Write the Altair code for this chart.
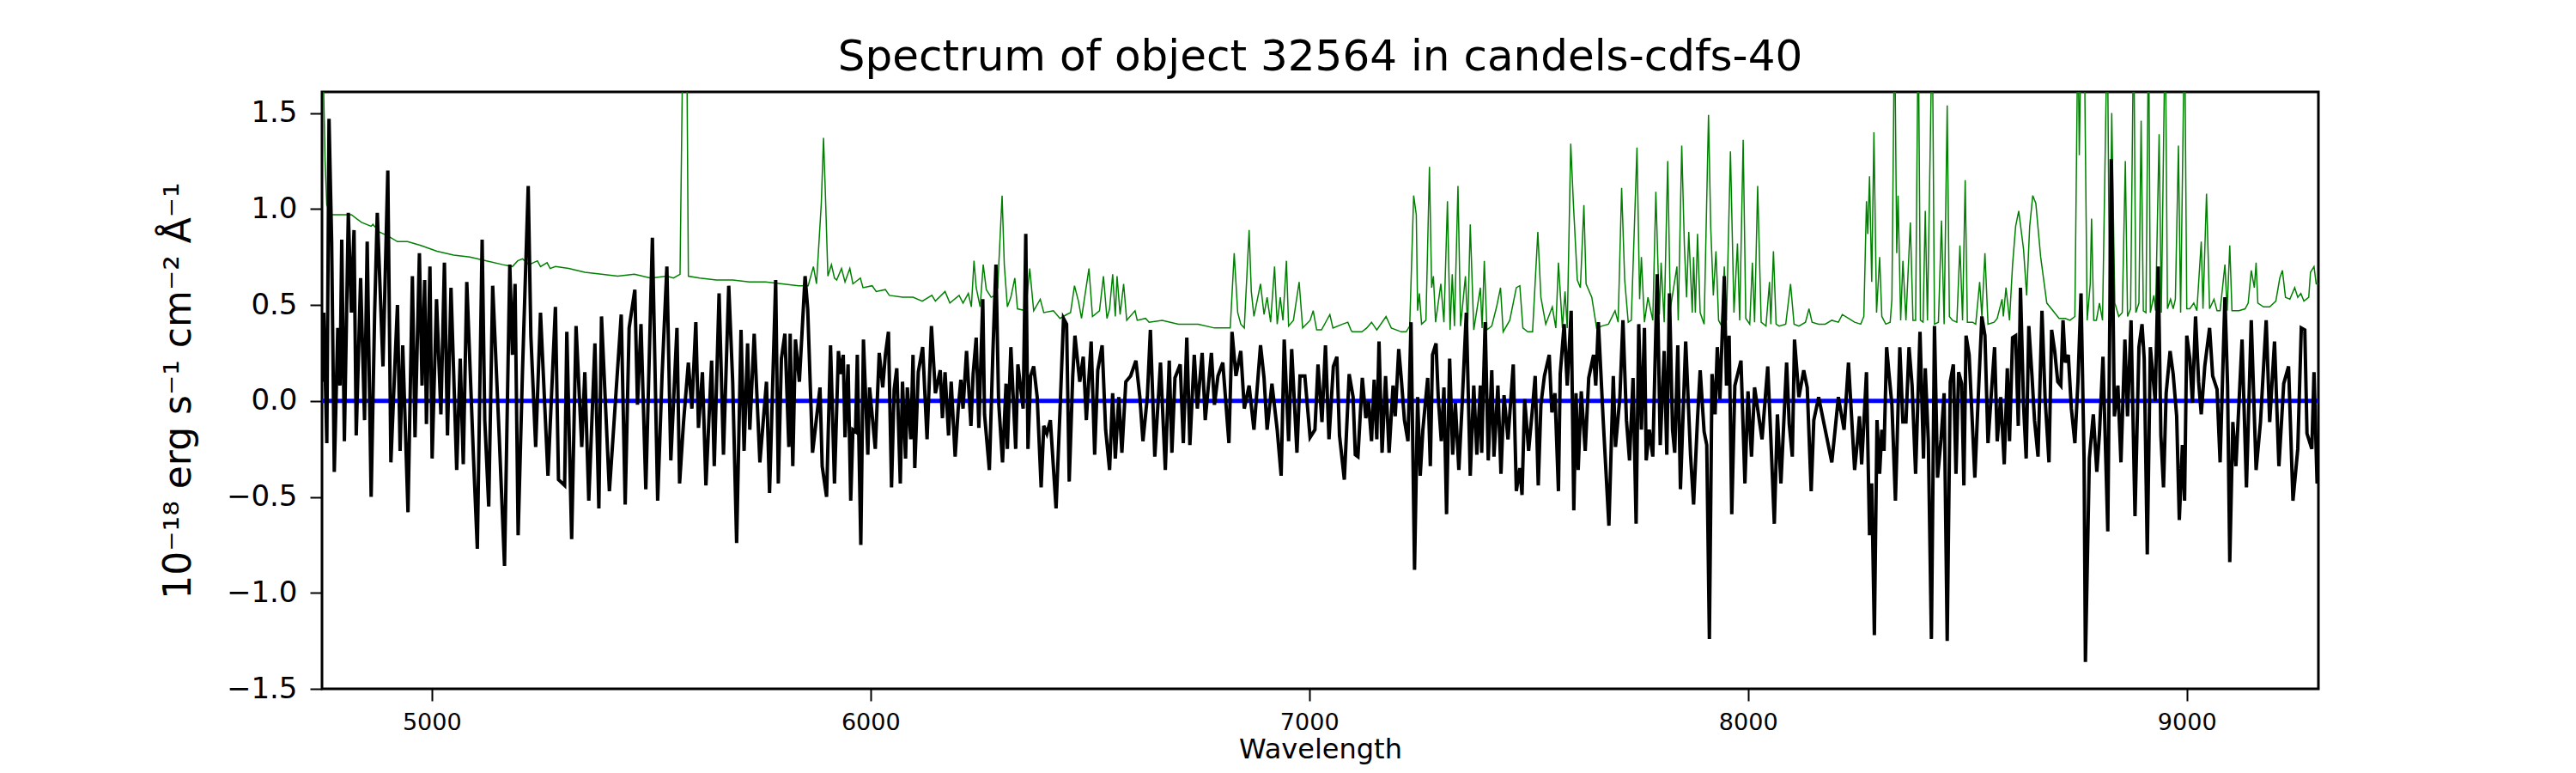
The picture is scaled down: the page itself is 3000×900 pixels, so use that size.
import altair as alt
import pandas as pd

# Observed flux (black)
wave = [4750, 4754, 4761, 4766, 4772, 4778, 4786, 4791, 4795, 4801, 4810, 4817, 4823, 4828, 4838, 4847, 4853, 4862, 4870, 4876,
        4889, 4900, 4907, 4916, 4922, 4928, 4934, 4946, 4956, 4962, 4972, 4978, 4984, 4988, 4996, 5001, 5011, 5021, 5029, 5036,
        5044, 5057, 5065, 5072, 5080, 5095, 5104, 5115, 5121, 5130, 5139, 5154, 5166, 5178, 5184, 5190, 5197, 5207, 5220, 5226,
        5237, 5248, 5265, 5282, 5289, 5303, 5308, 5319, 5329, 5342, 5349, 5358, 5372, 5381, 5387, 5405, 5413, 5432, 5441, 5450,
        5463, 5469, 5477, 5488, 5503, 5515, 5525, 5536, 5545, 5559, 5565, 5574, 5585, 5593, 5602, 5608, 5617, 5625, 5638, 5644,
        5655, 5665, 5677, 5686, 5695, 5705, 5712, 5720, 5725, 5735, 5748, 5763, 5770, 5784, 5790, 5797, 5805, 5814, 5817, 5823,
        5829, 5838, 5851, 5857, 5868, 5885, 5890, 5900, 5909, 5918,
        5927, 5932, 5938, 5942, 5949, 5955, 5960, 5966, 5970, 5978, 5984, 5994, 5998, 6011, 6020, 6028, 6034, 6041, 6048, 6054,
        6060, 6068, 6073, 6080, 6084, 6092, 6097, 6101, 6109, 6119, 6129, 6139, 6148, 6159, 6164, 6170, 6178, 6184, 6193, 6200,
        6206, 6211, 6219, 6229, 6234, 6241, 6247, 6256, 6260, 6271, 6279, 6286, 6292, 6301, 6309, 6312, 6320, 6331, 6336, 6348,
        6354, 6359, 6365, 6372, 6380, 6389, 6395, 6402, 6410, 6423, 6432, 6440, 6447, 6453, 6461, 6466, 6477, 6485, 6492, 6503,
        6511, 6518, 6528, 6536, 6545, 6552, 6558, 6566, 6573, 6582, 6593, 6605, 6614, 6621, 6631, 6638, 6648, 6661, 6672, 6681,
        6687, 6694, 6706, 6713, 6721, 6728, 6738, 6745, 6756, 6763, 6777, 6784, 6792, 6803, 6817, 6824, 6833, 6844, 6852, 6863,
        6874, 6889, 6897, 6904, 6915, 6927, 6936, 6943, 6953, 6960, 6972, 6979, 6990, 7002, 7013, 7020, 7029, 7037, 7045, 7055,
        7063, 7069, 7080, 7091,
        7100, 7105, 7111, 7121, 7129, 7135, 7142, 7148, 7154, 7159, 7166, 7174, 7182, 7191, 7196, 7204, 7210, 7217, 7225, 7232,
        7240, 7247, 7253, 7259, 7270, 7276, 7281, 7289, 7294, 7301, 7307, 7313, 7320, 7327, 7333, 7341, 7348, 7358, 7367, 7375,
        7382, 7390, 7393, 7401, 7408, 7416, 7421, 7430, 7437, 7444, 7453, 7465, 7472, 7480, 7485, 7491, 7500, 7508, 7515, 7522,
        7528, 7536, 7547, 7553, 7560, 7568, 7572, 7581, 7588, 7597, 7603, 7608, 7613, 7620, 7629, 7637, 7648, 7653, 7659, 7670,
        7674, 7683, 7693, 7698, 7708, 7715, 7723, 7730, 7738, 7745, 7751, 7757, 7764, 7768, 7775, 7783, 7793, 7800, 7809, 7815,
        7821, 7828, 7833, 7840, 7846, 7858, 7869, 7876, 7885, 7891, 7900, 7906, 7912, 7918, 7925, 7930, 7936, 7946, 7951, 7957,
        7963, 7970, 7984, 7993, 8000, 8008, 8015, 8022, 8032, 8045, 8052, 8060, 8067, 8075, 8088, 8094, 8101, 8106, 8116, 8127,
        8135, 8144, 8150, 8161, 8176, 8191, 8199, 8206,
        8219, 8229, 8236, 8243, 8249, 8254, 8259, 8264, 8270, 8277, 8282, 8288, 8294, 8300, 8305, 8310, 8316, 8321, 8328, 8336,
        8346, 8353, 8360, 8367, 8374, 8382, 8392, 8400, 8404, 8411, 8418, 8425, 8432, 8440, 8447, 8454, 8461, 8468, 8474, 8480,
        8487, 8492, 8497, 8504, 8512, 8517, 8524, 8533, 8540, 8547, 8554, 8562, 8568, 8576, 8584, 8591, 8596, 8603, 8610, 8616,
        8621, 8628, 8634, 8640, 8647, 8653, 8661, 8670, 8677, 8686, 8692, 8699, 8706, 8713, 8718, 8723, 8730, 8737, 8745, 8752,
        8759, 8766, 8769, 8778, 8787, 8795, 8801, 8809, 8820, 8828, 8835, 8843, 8850, 8859, 8865, 8873, 8882, 8891, 8898, 8903,
        8910, 8917, 8928, 8935, 8941, 8947, 8953, 8962, 8969, 8977, 8983, 8990, 8995, 9000, 9007, 9013, 9020, 9027, 9033, 9041,
        9052, 9059, 9069, 9076, 9087, 9093, 9098, 9105, 9112, 9126, 9136, 9147, 9158, 9168, 9181, 9189, 9200, 9210, 9221, 9232,
        9242, 9253, 9261, 9269, 9274, 9285, 9290, 9297, 9300]
flux = [0.10, 0.46, -0.22, 1.47, 0.83, -0.37, 0.38, 0.08, 0.84, -0.21, 0.98, 0.46, 0.89, -0.18, 0.64, -0.10, 0.83, -0.50, 0.46, 0.98,
        0.18, 1.20, -0.32, 0.18, 0.50, -0.26, 0.29, -0.58, 0.65, -0.19, 0.77, 0.08, 0.63, -0.12, 0.70, -0.30, 0.53, -0.07, 0.72, -0.18,
        0.59, -0.36, 0.22, -0.33, 0.62, -0.28, -0.77, 0.84, -0.10, -0.55, 0.60, -0.19, -0.86, 0.71, 0.24, 0.61, -0.70, 0.16, 1.12, 0.34,
        -0.24, 0.46, -0.39, 0.49, -0.41, -0.44, 0.36, -0.72, 0.39, -0.24, 0.15, -0.52, 0.30, -0.56, 0.44, -0.47, -0.20, 0.45, -0.54, 0.38,
        0.58, -0.02, 0.40, -0.46, 0.85, -0.52, 0.13, 0.70, -0.31, 0.38, -0.43, -0.11, 0.20, -0.04, 0.41, -0.14, 0.15, -0.44, 0.21, -0.34,
        0.56, -0.28, 0.60, 0.10, -0.74, 0.37, -0.26, 0.30, -0.15, 0.35, -0.32, 0.10, -0.48, 0.63, -0.43, 0.22, 0.35, -0.24, 0.35, -0.34,
        0.32, 0.10, 0.65, 0.48, -0.27, 0.07, -0.34, -0.50, 0.29, -0.43,
        0.26, 0.14, 0.24, -0.19, 0.19, -0.52, -0.15, -0.16, 0.24, -0.75, 0.32, -0.28, 0.07, -0.25, 0.25, 0.07, 0.24, 0.36, -0.45, 0.06,
        0.17, -0.43, 0.10, -0.30, 0.07, -0.20, 0.24, -0.35, 0.15, 0.28, -0.20, 0.39, 0.04, 0.16, -0.09, 0.15, -0.18, 0.10, -0.29, -0.04,
        0.11, -0.04, 0.26, -0.13, 0.14, 0.33, -0.14, 0.53, -0.07, -0.36, 0.25, 0.71, 0.00, -0.32, 0.09, -0.25, 0.28, -0.25, 0.19, -0.04,
        0.87, -0.25, 0.13, 0.18, 0.02, -0.45, -0.13, -0.17, -0.10, -0.56, -0.05, 0.43, 0.40, -0.42, 0.13, 0.34, 0.10, 0.23, -0.10, 0.31,
        -0.28, 0.16, 0.29, -0.15, -0.36, 0.04, -0.30, 0.02, -0.27, 0.10, 0.13, 0.21, 0.02, -0.21, 0.02, 0.37, -0.29, 0.20, -0.36, 0.21,
        -0.27, 0.12, 0.19, -0.22, 0.33, -0.23, 0.24, -0.04, 0.25, -0.10, 0.25, -0.02, 0.13, 0.20, -0.22, 0.36, 0.13, 0.26, -0.04, 0.08,
        -0.15, 0.29, 0.12, -0.15, 0.09, -0.15, -0.39, 0.32, -0.21, 0.27, -0.27, 0.13, 0.13, -0.19, -0.15, 0.19, -0.11, 0.29, -0.20, 0.18,
        0.23, -0.18, -0.41, 0.14,
        0.02, -0.28, -0.29, 0.12, -0.09, 0.00, -0.21, 0.11, -0.20, 0.31, -0.27, 0.13, -0.27, 0.08, -0.08, 0.27, 0.11, -0.10, -0.21, 0.41,
        -0.88, 0.02, -0.39, -0.15, 0.12, -0.34, 0.24, 0.30, 0.02, -0.21, 0.07, -0.59, 0.22, -0.28, -0.01, -0.36, -0.04, 0.46, -0.39, 0.08,
        -0.28, 0.08, -0.27, 0.41, -0.31, 0.16, -0.29, 0.08, -0.38, 0.03, -0.20, 0.19, -0.47, -0.35, -0.49, 0.01, -0.26, -0.06, 0.13, -0.44,
        -0.02, 0.13, 0.24, -0.06, 0.04, -0.47, 0.14, 0.40, 0.08, 0.47, -0.57, 0.04, -0.36, 0.05, -0.26, 0.12, 0.24, 0.08, 0.41, -0.10,
        -0.27, -0.65, 0.13, -0.24, 0.02, 0.42, -0.10, -0.31, 0.12, -0.64, 0.40, -0.15, 0.38, -0.31, -0.15, -0.29, 0.66, -0.23, 0.26, -0.28,
        0.56, -0.15, -0.27, 0.29, -0.46, 0.31, -0.28, -0.54, -0.09, 0.16, -0.16, -0.23, -1.24, 0.14, -0.07, 0.28, 0.01, 0.65, 0.08, 0.34,
        -0.59, 0.08, 0.21, -0.43, 0.05, -0.29, 0.07, -0.04, -0.20, 0.18, -0.19, -0.64, -0.07, -0.43, 0.20, -0.12, -0.29, 0.32, 0.02, 0.16,
        0.07, -0.47, -0.10, 0.02, -0.15, -0.32, -0.14, 0.02,
        -0.15, 0.20, -0.08, -0.36, -0.22, -0.08, -0.33, -0.12, 0.15, -0.70, -0.43, -1.22, -0.10, -0.38, -0.15, -0.26, 0.28, 0.15, -0.02, -0.52,
        0.28, -0.11, -0.11, 0.28, 0.08, -0.38, 0.36, -0.30, 0.17, -0.21, -1.24, 0.39, -0.40, -0.20, 0.04, -1.25, 0.10, 0.19, -0.38, 0.15,
        0.09, -0.44, 0.34, 0.24, -0.15, -0.40, -0.02, 0.44, 0.34, -0.22, 0.02, 0.28, -0.21, 0.02, -0.33, 0.17, -0.21, 0.33, 0.34, -0.13,
        0.59, -0.02, -0.30, 0.39, 0.14, -0.10, -0.29, 0.47, 0.02, -0.32, 0.37, 0.26, 0.10, 0.08, 0.42, 0.20, 0.24, -0.04, -0.22, 0.10,
        0.56, -0.31, -1.36, -0.30, -0.07, -0.37, -0.17, 0.23, -0.68, 1.26, -0.08, 0.08, -0.32, 0.32, -0.08, 0.42, -0.60, 0.28, 0.40, 0.22,
        -0.80, 0.28, 0.00, 0.70, -0.18, -0.45, 0.04, 0.26, 0.14, -0.08, -0.62, -0.23, -0.52, 0.34, 0.22, -0.01, 0.44, 0.10, -0.07, 0.18,
        0.38, 0.13, 0.06, -0.32, 0.54, 0.08, -0.84, -0.11, -0.34, 0.32, -0.45, 0.42, -0.36, -0.11, 0.42, -0.11, 0.31, -0.34, 0.09, 0.18,
        -0.52, -0.25, 0.38, 0.37, -0.17, -0.25, 0.15, -0.43, -0.40]

# Noise / error spectrum (green)
err_wave = [4750, 4753, 4757, 4761, 4772, 4795, 4817, 4840, 4862, 4866, 4881, 4900, 4922, 4945, 4975, 5012, 5050, 5087, 5125, 5162,
            5184, 5196, 5207, 5222, 5241, 5248, 5263, 5270, 5282, 5312, 5349, 5387, 5424, 5462, 5499, 5536, 5551, 5566, 5573, 5581,
            5585, 5611, 5649, 5686, 5724, 5761, 5799, 5836, 5858, 5870, 5877, 5888, 5893, 5897, 5903, 5911, 5918,
            5923, 5934, 5942, 5953, 5960, 5977, 5983, 6004, 6013, 6034, 6043, 6073, 6097, 6118, 6140, 6148, 6170, 6181, 6202, 6211,
            6223, 6230, 6236, 6241, 6250, 6257, 6264, 6275, 6284, 6290, 6300, 6305, 6312, 6320, 6329, 6335, 6354, 6363, 6372, 6387,
            6395, 6417, 6432, 6447, 6456, 6465, 6474, 6481, 6498, 6506, 6522, 6531, 6539, 6545, 6552, 6558, 6562, 6569, 6577, 6584,
            6603, 6608, 6627, 6635, 6665, 6702, 6747, 6784, 6820, 6829, 6837, 6844, 6852, 6863, 6868, 6874, 6889, 6897, 6904, 6912,
            6921, 6927, 6934, 6940, 6948, 6953, 6964, 6977, 6985, 7002, 7009, 7017, 7028, 7047, 7054, 7076, 7088, 7095,
            7098, 7120, 7131, 7142, 7154, 7175, 7187, 7210, 7221, 7229, 7238, 7244, 7247, 7251, 7256, 7266, 7274, 7279, 7283, 7288,
            7300, 7307, 7315, 7321, 7326, 7331, 7339, 7345, 7356, 7361, 7367, 7375, 7390, 7394, 7399, 7405, 7416, 7427, 7436, 7442,
            7457, 7472, 7480, 7487, 7498, 7509, 7521, 7528, 7539, 7554, 7562, 7568, 7577, 7583, 7588, 7596, 7602, 7611, 7618, 7626,
            7631, 7644, 7655, 7667, 7682, 7697, 7704, 7712, 7719, 7727, 7734, 7747, 7753, 7757, 7764, 7772, 7783, 7790, 7798, 7802,
            7809, 7817, 7823, 7838, 7841, 7849, 7855, 7860, 7865, 7873, 7876, 7880, 7885, 7891, 7900, 7910, 7915, 7921, 7927, 7933,
            7940, 7946, 7951, 7960, 7968, 7976, 7981, 7989, 7995, 8004, 8010, 8015, 8022, 8030, 8041, 8049, 8052, 8058, 8064, 8071,
            8086, 8097, 8105, 8116, 8131, 8139, 8146, 8161, 8176, 8191, 8206,
            8215, 8229, 8243, 8257, 8264, 8270, 8273, 8277, 8282, 8287, 8293, 8300, 8305, 8314, 8324, 8328, 8334, 8339, 8342, 8348,
            8353, 8360, 8370, 8376, 8382, 8388, 8393, 8399, 8404, 8409, 8420, 8425, 8434, 8441, 8447, 8454, 8459, 8466, 8476, 8483,
            8489, 8495, 8500, 8512, 8519, 8528, 8533, 8540, 8547, 8561, 8568, 8579, 8582, 8588, 8596, 8603, 8610, 8617, 8628, 8635,
            8642, 8649, 8656, 8667, 8681, 8695, 8709, 8723, 8734, 8745, 8752, 8755, 8760, 8766, 8773, 8780, 8783, 8788, 8794, 8801,
            8808, 8819, 8824, 8829, 8836, 8845, 8853, 8860, 8865, 8872, 8879, 8884, 8891, 8896, 8901, 8907, 8913, 8917, 8925, 8929,
            8937, 8942, 8951, 8956, 8963, 8969, 8974, 8981, 8986, 8995, 9000, 9007, 9016, 9023, 9033, 9037, 9045, 9052, 9062, 9069,
            9076, 9087, 9092, 9098, 9103, 9119, 9133, 9140, 9147, 9154, 9158, 9162, 9175, 9189, 9203, 9212, 9218, 9225, 9235, 9246,
            9253, 9260, 9267, 9278, 9282, 9290, 9295, 9300]
err = [2.00, 1.70, 1.25, 1.02, 0.97, 0.97, 0.97, 0.93, 0.91, 0.92, 0.88, 0.86, 0.83, 0.83, 0.81, 0.78, 0.76, 0.75, 0.73, 0.71,
       0.70, 0.73, 0.74, 0.71, 0.73, 0.70, 0.72, 0.69, 0.70, 0.69, 0.67, 0.66, 0.65, 0.66, 0.64, 0.65, 0.64, 0.66, 2.00, 2.00,
       0.65, 0.64, 0.63, 0.63, 0.62, 0.62, 0.61, 0.60, 0.60, 0.70, 0.61, 1.03, 1.37, 1.10, 0.65, 0.71, 0.64,
       0.63, 0.69, 0.62, 0.69, 0.61, 0.64, 0.59, 0.60, 0.57, 0.58, 0.55, 0.54, 0.54, 0.52, 0.55, 0.52, 0.57, 0.51, 0.55, 0.51,
       0.56, 0.49, 0.73, 0.59, 0.49, 0.71, 0.58, 0.54, 0.55, 0.59, 1.07, 0.71, 0.49, 0.54, 0.64, 0.48, 0.47, 0.69, 0.47, 0.53,
       0.46, 0.47, 0.43, 0.45, 0.46, 0.60, 0.52, 0.43, 0.69, 0.44, 0.47, 0.65, 0.43, 0.48, 0.66, 0.44, 0.65, 0.45, 0.61, 0.42,
       0.47, 0.42, 0.43, 0.41, 0.42, 0.40, 0.40, 0.38, 0.38, 0.77, 0.46, 0.40, 0.38, 0.89, 0.57, 0.44, 0.61, 0.45, 0.54, 0.41,
       0.70, 0.40, 0.54, 0.42, 0.73, 0.39, 0.42, 0.62, 0.38, 0.42, 0.47, 0.37, 0.37, 0.45, 0.38, 0.40, 0.41, 0.37,
       0.36, 0.36, 0.38, 0.41, 0.37, 0.44, 0.38, 0.36, 0.36, 0.39, 1.07, 0.97, 0.47, 0.56, 0.40, 0.42, 1.22, 0.59, 0.65, 0.41,
       0.61, 0.41, 1.04, 0.37, 0.66, 0.39, 1.12, 0.39, 0.65, 0.38, 0.92, 0.37, 0.59, 0.38, 0.73, 0.37, 0.39, 0.49, 0.59, 0.36,
       0.42, 0.59, 0.60, 0.38, 0.36, 0.36, 0.88, 0.54, 0.40, 0.49, 0.38, 0.72, 0.38, 0.57, 0.38, 1.34, 1.03, 0.63, 0.59, 1.02,
       0.61, 0.54, 0.38, 0.39, 0.40, 0.47, 0.41, 1.11, 0.63, 0.41, 0.42, 1.32, 0.53, 0.75, 0.41, 0.54, 0.42, 1.09, 0.45, 0.72,
       0.41, 1.25, 0.48, 0.70, 0.42, 1.33, 0.81, 0.54, 0.88, 0.46, 0.75, 0.46, 0.87, 0.46, 0.40, 1.49, 0.91, 0.55, 0.78, 0.42,
       0.39, 0.70, 0.42, 1.30, 0.46, 0.82, 0.42, 1.36, 0.43, 0.40, 0.72, 0.41, 1.12, 0.41, 0.39, 0.62, 0.40, 0.78, 0.40, 0.39,
       0.40, 0.61, 0.40, 0.39, 0.41, 0.48, 0.41, 0.40, 0.40, 0.42, 0.41,
       0.45, 0.43, 0.41, 0.40, 0.44, 1.04, 0.87, 1.17, 0.62, 1.40, 0.46, 0.75, 0.44, 0.40, 0.41, 0.53, 2.00, 0.77, 1.07, 0.42,
       0.73, 0.42, 0.93, 0.42, 0.42, 2.00, 0.42, 0.41, 0.99, 0.42, 2.00, 0.40, 0.41, 0.94, 0.40, 1.54, 0.44, 0.42, 0.41, 0.81,
       0.42, 1.15, 0.41, 0.41, 0.40, 0.62, 0.44, 0.77, 0.40, 0.41, 0.43, 0.53, 0.44, 0.59, 0.42, 0.71, 0.91, 0.99, 0.79, 0.55,
       0.91, 1.07, 1.03, 0.75, 0.51, 0.47, 0.43, 0.43, 0.42, 0.44, 2.00, 1.28, 2.00, 2.00, 0.42, 0.61, 0.95, 0.42, 0.42, 0.51,
       0.42, 2.00, 0.46, 1.50, 0.51, 0.44, 0.46, 1.25, 0.44, 0.48, 2.00, 0.46, 0.51, 1.46, 0.47, 0.46, 2.00, 0.46, 0.55, 0.47,
       1.39, 0.46, 2.00, 0.48, 0.53, 0.48, 0.53, 1.33, 0.46, 2.00, 0.48, 0.48, 0.51, 0.47, 0.83, 0.48, 1.08, 0.48, 0.53, 0.47,
       0.47, 0.71, 0.47, 0.81, 0.47, 0.47, 0.48, 0.51, 0.68, 0.59, 0.72, 0.51, 0.49, 0.49, 0.52, 0.64, 0.68, 0.54, 0.53, 0.59,
       0.54, 0.56, 0.52, 0.54, 0.67, 0.70, 0.61, 0.61]

# Zero / model level (blue)
model_level = [0.0]

TITLE = "Spectrum of object 32564 in candels-cdfs-40"
YTITLE = "10\u207b\u00b9\u2078 erg s\u207b\u00b9 cm\u207b\u00b2 \u00c5\u207b\u00b9"

spec = pd.DataFrame({"wave": wave, "flux": flux})
noise = pd.DataFrame({"wave": err_wave, "flux": err})
zero = pd.DataFrame({"level": model_level})

W, H = 2325, 695
xscale = alt.Scale(domain=[4750, 9300], nice=False, zero=False)
yscale = alt.Scale(domain=[-1.5, 1.61], nice=False, zero=False)

xaxis = alt.Axis(values=[5000, 6000, 7000, 8000, 9000], format="d", labelFontSize=27,
                 tickSize=14, tickWidth=2, tickColor="black", labelColor="black",
                 labelPadding=12, domain=False, grid=False, title="Wavelength",
                 titleFontSize=32, titleFontWeight="normal", titleColor="black",
                 titleY=80, titleBaseline="alphabetic")
yaxis = alt.Axis(values=[-1.5, -1.0, -0.5, 0.0, 0.5, 1.0, 1.5], format=".1f", labelFontSize=34,
                 tickSize=14, tickWidth=2, tickColor="black", labelColor="black",
                 labelPadding=15, domain=False, grid=False, title=YTITLE,
                 titleFontSize=44, titleFontWeight="normal", titleColor="black",
                 titleAngle=270, titleX=-167, titleY=H / 2, titleAlign="center",
                 titleBaseline="middle")

green = alt.Chart(noise).mark_line(color="green", strokeWidth=1.5, clip=True).encode(
    x=alt.X("wave:Q", scale=xscale, axis=xaxis),
    y=alt.Y("flux:Q", scale=yscale, axis=yaxis),
)
blue = alt.Chart(zero).mark_rule(color="blue", strokeWidth=5).encode(
    y=alt.Y("level:Q", scale=yscale),
)
black = alt.Chart(spec).mark_line(color="black", strokeWidth=4, clip=True).encode(
    x=alt.X("wave:Q", scale=xscale),
    y=alt.Y("flux:Q", scale=yscale),
)

chart = alt.layer(green, blue, black).properties(
    width=W, height=H,
    title=alt.TitleParams(TITLE, fontSize=50, fontWeight="normal", color="black",
                          anchor="middle", baseline="alphabetic", offset=22, dy=47),
    autosize=alt.AutoSizeParams(type="none"),
    padding={"left": 367, "top": 99, "right": 290, "bottom": 92},
).configure(font="DejaVu Sans").configure_view(stroke="black", strokeWidth=3)

chart.save("out.html", embed_options={"renderer": "svg", "actions": False})
